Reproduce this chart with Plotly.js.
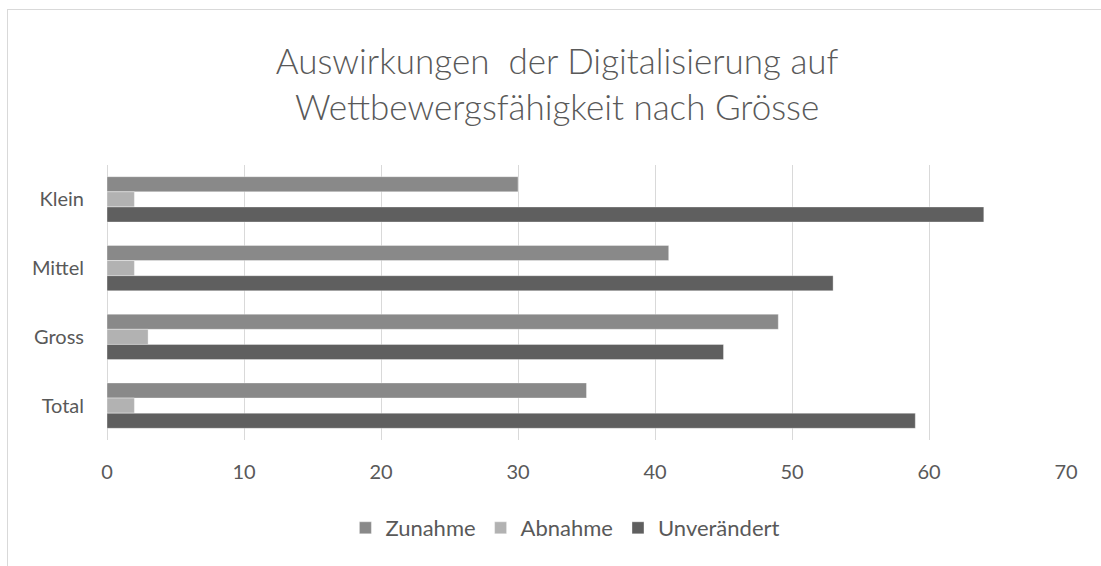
<!DOCTYPE html>
<html>
<head>
<meta charset="utf-8">
<script src="https://cdn.plot.ly/plotly-3.0.1.min.js"></script>
<style>
  html, body { margin: 0; padding: 0; background: #ffffff; }
  #wrap { position: relative; width: 1101px; height: 566px; overflow: hidden; }
  #chart { position: absolute; left: 0; top: 0; width: 1101px; height: 566px; }
  #frame { position: absolute; left: 7px; top: 9px; width: 1200px; height: 700px;
           border-top: 1px solid #d9d9d9; border-left: 1px solid #d9d9d9; pointer-events: none; }
</style>
</head>
<body>
<div id="wrap">
  <div id="chart"></div>
  <div id="frame"></div>
</div>
<script>
const categories = ["Klein", "Mittel", "Gross", "Total"];
const seriesNames = ["Zunahme", "Abnahme", "Unverändert"];
const zunahme = [30, 41, 49, 35];
const abnahme = [2, 2, 3, 2];
const unveraendert = [64, 53, 45, 59];
const xTicks = [0, 10, 20, 30, 40, 50, 60, 70];
const colors = ["#898989", "#b2b2b2", "#5f5f5f"];

const values = [zunahme, abnahme, unveraendert];
const traces = values.map((v, i) => ({
  type: "bar",
  orientation: "h",
  name: seriesNames[i],
  y: categories,
  x: v,
  marker: { color: colors[i], line: { width: 0.6, color: "rgba(255,255,255,0.6)" } },
  hoverinfo: "x+y+name"
}));

const layout = {
  width: 1101,
  height: 566,
  paper_bgcolor: "#ffffff",
  plot_bgcolor: "#ffffff",
  font: { family: "Lato, 'Open Sans', sans-serif", color: "#595959", size: 20 },
  title: {
    text: "Auswirkungen  der Digitalisierung auf<br>Wettbewergsfähigkeit nach Grösse",
    font: { family: "Lato, 'Open Sans', sans-serif", size: 35, color: "#595959", weight: 300 },
    x: 0.506,
    xanchor: "center",
    y: 0.869,
    yanchor: "middle"
  },
  margin: { l: 107, r: 35, t: 165, b: 126 },
  barmode: "group",
  bargap: 0.34,
  bargroupgap: 0,
  xaxis: {
    range: [0, 70],
    tickvals: xTicks,
    ticktext: xTicks.map(String),
    showgrid: true,
    gridcolor: "#d9d9d9",
    gridwidth: 1,
    zeroline: true,
    zerolinecolor: "#d9d9d9",
    zerolinewidth: 1,
    showline: false,
    ticks: "",
    ticklabelstandoff: 18,
    tickfont: { size: 20, color: "#595959" },
    fixedrange: true
  },
  yaxis: {
    type: "category",
    categoryorder: "array",
    categoryarray: categories,
    autorange: "reversed",
    showgrid: false,
    zeroline: false,
    showline: false,
    ticks: "",
    ticklabelstandoff: 22,
    tickfont: { size: 20, color: "#595959" },
    fixedrange: true
  },
  legend: {
    orientation: "h",
    x: 0.478,
    xanchor: "center",
    y: -0.32,
    yanchor: "middle",
    font: { size: 22, color: "#595959" },
    itemwidth: 30,
    traceorder: "normal",
    bgcolor: "rgba(0,0,0,0)"
  },
  showlegend: true
};

Plotly.newPlot("chart", traces, layout, { displayModeBar: false, staticPlot: true });
</script>
</body>
</html>
